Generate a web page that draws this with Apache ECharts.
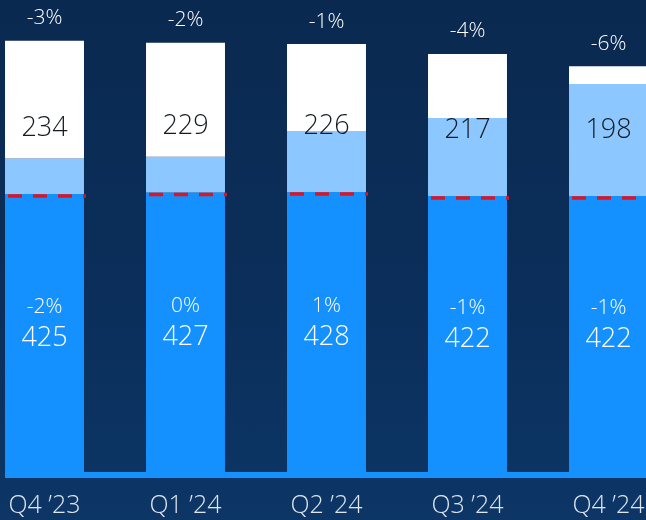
<!DOCTYPE html>
<html>
<head>
<meta charset="utf-8">
<script src="https://cdn.jsdelivr.net/npm/echarts@6/dist/echarts.min.js"></script>
<style>
  html, body { margin: 0; padding: 0; }
  body { background: linear-gradient(180deg, #0a2950 0%, #0b2f5b 60%, #0c3666 100%); }
  #chart { width: 646px; height: 520px; }
</style>
</head>
<body>
<div id="chart"></div>
<script>
// Quarterly volumes: core (blue) and upper block (light blue + white)
const categories = ["Q4 ’23", "Q1 ’24", "Q2 ’24", "Q3 ’24", "Q4 ’24"];
const coreValues = [425, 427, 428, 422, 422];
const coreChange = ['-2%', '0%', '1%', '-1%', '-1%'];
const upperTotals = [234, 229, 226, 217, 198];
const upperLight = [54, 55, 93, 119, 171];
const upperChange = ['-3%', '-2%', '-1%', '-4%', '-6%'];

const upperWhite = upperTotals.map((t, i) => t - upperLight[i]);

const FONT = '"Open Sans", Inter, "Noto Sans", sans-serif';
const BLUE = '#1591ff';
const LIGHT = '#8cc8ff';
const RED = '#e5111d';

const chart = echarts.init(document.getElementById('chart'), null, { renderer: 'canvas' });

const option = {
  backgroundColor: 'transparent',
  animation: false,
  grid: { left: -26, right: -33, top: 14, bottom: 48, outerBoundsMode: 'none', containLabel: false },
  xAxis: {
    type: 'category',
    data: categories,
    axisLine: { show: false },
    axisTick: { show: false },
    axisLabel: {
      color: '#dde5ef', fontSize: 25, fontFamily: FONT, fontWeight: 300,
      margin: 21
    }
  },
  yAxis: { type: 'value', min: 0, max: 700, show: false, splitLine: { show: false } },
  series: [
    {
      name: 'core', type: 'bar', stack: 'v', barCategoryGap: '44%',
      data: coreValues,
      itemStyle: { color: BLUE },
      label: {
        show: true, position: 'inside', offset: [0, -10],
        formatter: p => '{p|' + coreChange[p.dataIndex] + '}\n{v|' + p.value + '}',
        rich: {
          p: { color: '#ffffff', fontSize: 21, fontFamily: FONT, fontWeight: 300, lineHeight: 30 },
          v: { color: '#ffffff', fontSize: 27, fontFamily: FONT, fontWeight: 300, lineHeight: 32 }
        }
      }
    },
    {
      name: 'upperLight', type: 'bar', stack: 'v',
      data: upperLight,
      itemStyle: { color: LIGHT }
    },
    {
      name: 'upperWhite', type: 'bar', stack: 'v',
      data: upperWhite,
      itemStyle: { color: '#ffffff' },
      label: {
        show: true, position: 'top', distance: 12,
        formatter: p => upperChange[p.dataIndex],
        color: '#ffffff', fontSize: 21, fontFamily: FONT, fontWeight: 300
      }
    },
    {
      // dashed reference at the core level, plus the upper-block total above it
      name: 'marker', type: 'custom',
      data: coreValues.map((v, i) => [i, v, upperTotals[i]]),
      encode: { x: 0, y: 1 },
      z: 10,
      renderItem: function (params, api) {
        const pt = api.coord([api.value(0), api.value(1)]);
        const w = api.size([1, 0])[0] * 0.56;
        const left = pt[0] - w / 2;
        return {
          type: 'group',
          children: [
            {
              type: 'line',
              shape: { x1: left + 3, y1: pt[1] + 2, x2: left + w + 2, y2: pt[1] + 2 },
              style: { stroke: RED, lineWidth: 3.5, lineDash: [14, 11] }
            },
            {
              type: 'text',
              x: pt[0], y: pt[1] - 66,
              style: {
                text: String(api.value(2)),
                fill: '#161a22', font: '300 27px ' + FONT,
                align: 'center', verticalAlign: 'middle'
              }
            }
          ]
        };
      }
    }
  ]
};

chart.setOption(option);

// bright base strip under the bars, starting at the first bar's left edge
const base = chart.convertToPixel({ xAxisIndex: 0, yAxisIndex: 0 }, [0, 0]);
const bw = chart.convertToPixel({ xAxisIndex: 0 }, 1) - chart.convertToPixel({ xAxisIndex: 0 }, 0);
const stripLeft = base[0] - bw * 0.56 / 2;
chart.setOption({
  graphic: [{
    type: 'rect', z: 5,
    shape: { x: stripLeft, y: base[1], width: 646 - stripLeft, height: 6 },
    style: { fill: BLUE }
  }]
});
</script>
</body>
</html>
